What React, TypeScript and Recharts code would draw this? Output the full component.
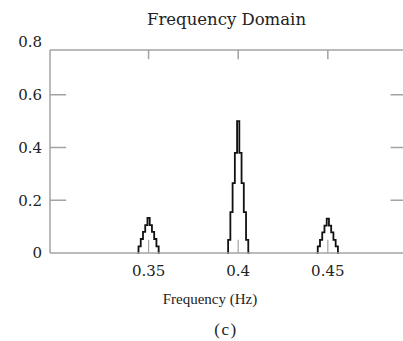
import { Line, LineChart, ReferenceLine, XAxis, YAxis } from 'recharts';

// spectrum bins (1/800 Hz spacing) around the three peaks
const peakLowFreq = [0.34375, 0.345, 0.34625, 0.3475, 0.34875, 0.35, 0.35125, 0.3525, 0.35375, 0.355, 0.35625];
const peakLowMag = [0, 0.025, 0.053, 0.08, 0.106, 0.133, 0.106, 0.08, 0.053, 0.025, 0];
const peakMidFreq = [0.39375, 0.395, 0.39625, 0.3975, 0.39875, 0.4, 0.40125, 0.4025, 0.40375, 0.405, 0.40625];
const peakMidMag = [0, 0.05, 0.155, 0.265, 0.38, 0.5, 0.38, 0.265, 0.155, 0.05, 0];
const peakHighFreq = [0.44375, 0.445, 0.44625, 0.4475, 0.44875, 0.45, 0.45125, 0.4525, 0.45375, 0.455, 0.45625];
const peakHighMag = [0, 0.025, 0.05, 0.078, 0.104, 0.13, 0.104, 0.078, 0.05, 0.025, 0];

const xTicks = [0.35, 0.4, 0.45];
const yTicks = [0, 0.2, 0.4, 0.6, 0.8];
const innerYTicks = [0.2, 0.4, 0.6];

const X_MIN = 0.295;
const X_MAX = 0.4925;
const FRAME_TOP = 0.77;

const FONT = '"DejaVu Serif", serif';
const TIMES = '"Liberation Serif", serif';
const AXIS = '#a3a3a3';

type Row = { f: number; mag: number | null };

const toRows = (fs: number[], ms: number[]): Row[] => fs.map((f, i) => ({ f, mag: ms[i] }));

// null rows break the line so the baseline between peaks stays grey
const data: Row[] = [
  ...toRows(peakLowFreq, peakLowMag),
  { f: 0.375, mag: null },
  ...toRows(peakMidFreq, peakMidMag),
  { f: 0.425, mag: null },
  ...toRows(peakHighFreq, peakHighMag),
];

export default function App() {
  return (
    <div
      style={{
        position: 'absolute',
        left: 0,
        top: 0,
        width: 403,
        height: 341,
        overflow: 'hidden',
        background: '#fff',
        fontFamily: FONT,
        color: '#222',
      }}
    >
      <div style={{ position: 'absolute', left: 0, width: 453, top: 10, textAlign: 'center', fontSize: 16.5, lineHeight: '20px' }}>
        Frequency Domain
      </div>

      <LineChart width={412} height={341} data={data} margin={{ top: 42, right: 8, bottom: 0, left: 0 }}>
        <XAxis
          dataKey="f"
          type="number"
          domain={[X_MIN, X_MAX]}
          ticks={xTicks}
          allowDataOverflow
          stroke={AXIS}
          strokeWidth={1.5}
          tickLine={false}
          tickSize={0}
          tickMargin={12}
          height={88}
          tick={{ fill: '#222', fontSize: 15, fontFamily: FONT }}
        />
        <YAxis
          type="number"
          domain={[0, 0.8]}
          ticks={yTicks}
          width={50}
          axisLine={false}
          tickLine={false}
          tickSize={0}
          tickMargin={8}
          tickFormatter={(v: number) => String(v)}
          tick={{ fill: '#222', fontSize: 15, fontFamily: FONT }}
        />

        {/* frame */}
        <ReferenceLine segment={[{ x: X_MIN, y: 0 }, { x: X_MIN, y: FRAME_TOP }]} stroke={AXIS} strokeWidth={1.5} />
        <ReferenceLine segment={[{ x: X_MIN, y: FRAME_TOP }, { x: X_MAX, y: FRAME_TOP }]} stroke={AXIS} strokeWidth={1.5} />
        <ReferenceLine segment={[{ x: X_MAX, y: 0 }, { x: X_MAX, y: FRAME_TOP }]} stroke={AXIS} strokeWidth={1.5} />

        {/* inward ticks */}
        {xTicks.map((t) => (
          <ReferenceLine key={`b${t}`} segment={[{ x: t, y: 0 }, { x: t, y: 0.05 }]} stroke={AXIS} strokeWidth={1.2} />
        ))}
        {xTicks.map((t) => (
          <ReferenceLine key={`t${t}`} segment={[{ x: t, y: FRAME_TOP }, { x: t, y: 0.735 }]} stroke={AXIS} strokeWidth={1.5} />
        ))}
        {innerYTicks.map((v) => (
          <ReferenceLine key={`l${v}`} segment={[{ x: X_MIN, y: v }, { x: 0.304, y: v }]} stroke={AXIS} strokeWidth={1.5} />
        ))}
        {innerYTicks.map((v) => (
          <ReferenceLine key={`r${v}`} segment={[{ x: X_MAX, y: v }, { x: 0.485, y: v }]} stroke={AXIS} strokeWidth={1.5} />
        ))}

        <Line
          type="step"
          dataKey="mag"
          stroke="#111"
          strokeWidth={1.8}
          dot={false}
          activeDot={false}
          connectNulls={false}
          isAnimationActive={false}
        />
      </LineChart>

      <div style={{ position: 'absolute', left: 0, width: 420, top: 290, textAlign: 'center', fontFamily: TIMES, fontSize: 15, lineHeight: '18px' }}>
        Frequency (Hz)
      </div>
      <div style={{ position: 'absolute', left: 0, width: 452, top: 320, textAlign: 'center', fontFamily: TIMES, fontSize: 17, lineHeight: '20px', letterSpacing: 1.5 }}>
        (c)
      </div>
    </div>
  );
}
